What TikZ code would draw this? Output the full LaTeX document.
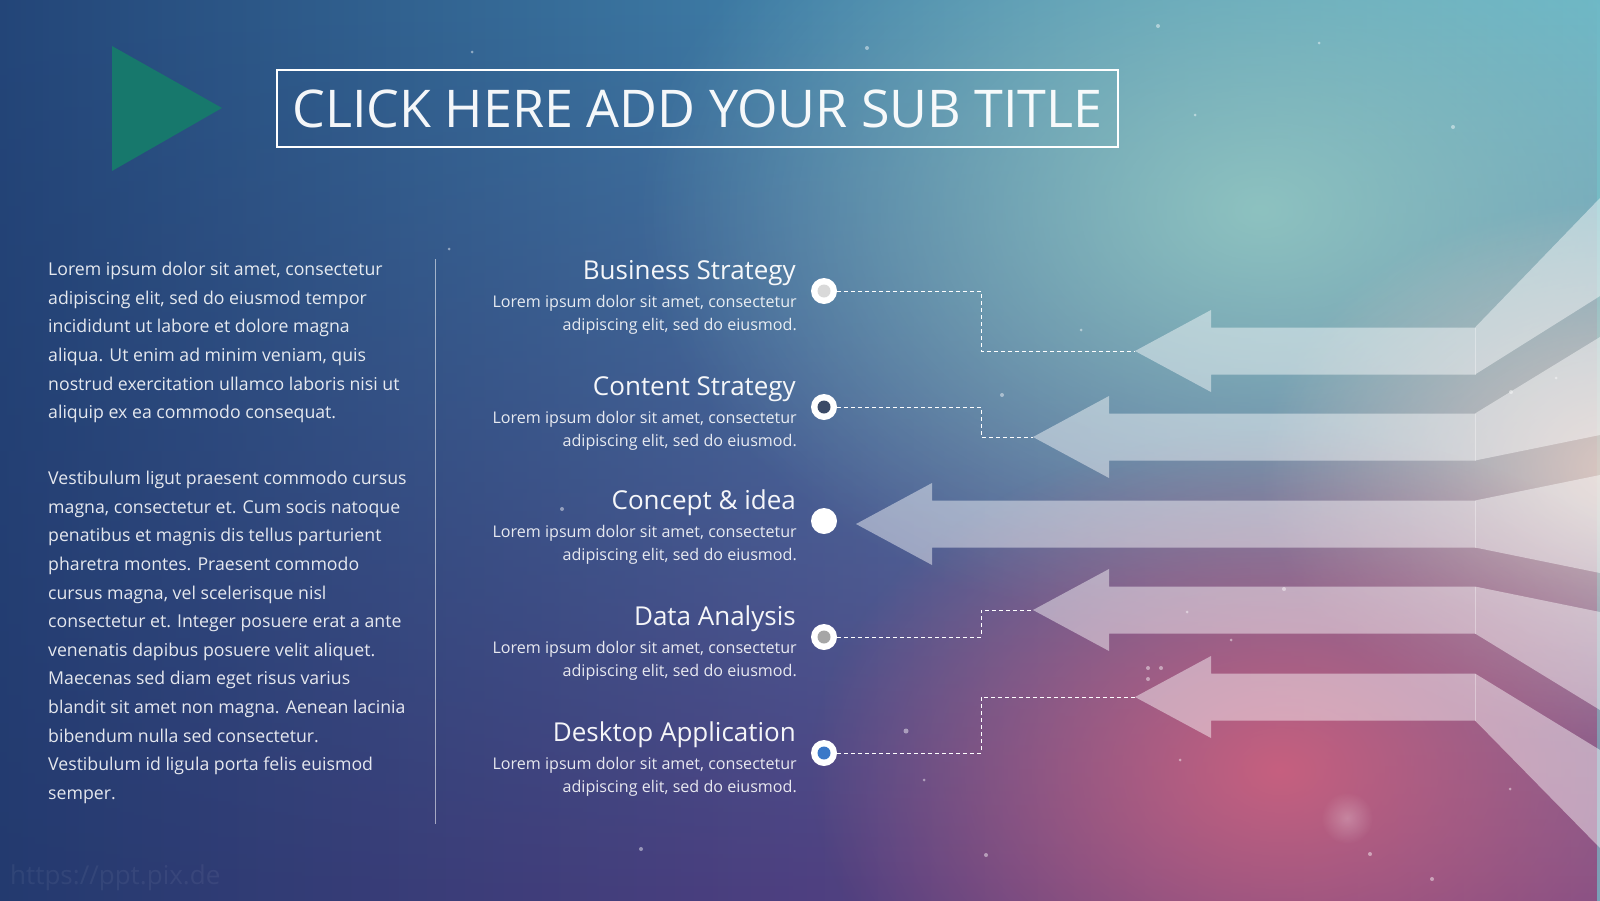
\documentclass[tikz,border=0pt]{standalone}
\usepackage{fontspec}
\setmainfont{Open Sans}
\usepackage{tikz}
\usetikzlibrary{fadings}
\definecolor{bgdeep}{HTML}{234679}
\definecolor{bgsea}{HTML}{3F7FA8}
\definecolor{bgteal}{HTML}{63B4C8}
\definecolor{bgnight}{HTML}{243A6F}
\definecolor{bgplum}{HTML}{4E3F80}
\definecolor{bgmauve}{HTML}{7B4E86}
\definecolor{bgmint}{HTML}{93C8C2}
\definecolor{bgpeach}{HTML}{E8CFC4}
\definecolor{bgrose}{HTML}{C6607F}
\definecolor{playgreen}{HTML}{17786C}
\definecolor{dotgrey}{HTML}{D9D9D9}
\definecolor{dotnavy}{HTML}{3B4A66}
\definecolor{dotstone}{HTML}{A6A6A6}
\definecolor{dotblue}{HTML}{3A78C8}
\tikzfading[name=glowfade, inner color=transparent!0, outer color=transparent!100]
\tikzfading[name=fadeup, top color=transparent!100, bottom color=transparent!0]
\tikzstyle{dotring} = [circle, fill=white, minimum size=26pt, inner sep=0pt]
\tikzset{
  head/.style={anchor=base east, inner sep=0pt, text=white, text opacity=.95, font=\fontsize{26}{31}\selectfont},
  blurb/.style={anchor=north east, align=right, inner sep=0pt, text=white, text opacity=.88, font=\fontsize{16.1}{23.5}\selectfont},
  para/.style={anchor=north west, align=left, inner sep=0pt, text=white, text opacity=.88, font=\fontsize{17.7}{28.6}\selectfont},
  band/.style={fill=white, fill opacity=.45},
  link/.style={white, line width=1pt, dash pattern=on 4pt off 3pt},
}
\begin{document}
\begin{tikzpicture}[x=1pt,y=-1pt]
\useasboundingbox (0,0) rectangle (1600,900);
% backdrop
\shade[left color=bgdeep, right color=bgteal, middle color=bgsea] (0,0) rectangle (1600,900);
\shade[left color=bgnight, right color=bgmauve, middle color=bgplum, path fading=fadeup] (0,0) rectangle (1600,900);
\fill[bgmint, fill opacity=.9, path fading=glowfade] (1260,210) ellipse [x radius=620, y radius=430];
\fill[bgpeach, fill opacity=.9, path fading=glowfade] (1620,470) ellipse [x radius=360, y radius=270];
\fill[bgrose, path fading=glowfade] (1280,770) ellipse [x radius=470, y radius=340];
\fill[white, opacity=.25, path fading=glowfade] (1347,818) circle (26);
\foreach \sx/\sy/\sr in {867/48/2, 1158/26/2, 1319/43/1.5, 1453/127/2, 1195/115/1.5, 472/52/1.5,
  449/249/1.5, 1081/330/1.5, 1002/395/2, 562/509/2, 1511/392/2, 1556/378/1.5, 1284/589/2,
  1187/612/1.5, 1148/668/2, 1161/668/2, 1148/679/2, 906/731/2.5, 924/780/1.5, 1180/760/1.5,
  641/849/2, 986/855/2, 1370/854/2, 1432/879/2, 1510/789/1.5, 1231/640/1.5}
  \fill[white, opacity=.45] (\sx,\sy) circle (\sr);

% arrows
\foreach \i/\c/\t/\r in {1/351/1135/198, 2/437/1033/337, 3/524/856/475, 4/610/1033/612, 5/697/1135/750} {
  \coordinate (tip\i) at (\t,\c);
  \fill[band] (tip\i) -- (\t+76,\c-41) -- (\t+76,\c-23.5) -- (1475,\c-23.5) -- (1600,\r)
    -- (1600,\r+98) -- (1475,\c+23.5) -- (\t+76,\c+23.5) -- (\t+76,\c+41) -- cycle;
  \draw[white, opacity=.35, line width=.8pt] (1475,\c-23.5) -- (1475,\c+23.5);
}

% items
\foreach \i/\y/\name/\core in {1/269/Business Strategy/dotgrey, 2/385/Content Strategy/dotnavy,
  3/499/Concept \& idea/white, 4/615/Data Analysis/dotstone, 5/731/Desktop Application/dotblue} {
  \node[head] (head\i) at (796,\y+10) {\name};
  \node[blurb] (blurb\i) at (797,\y+26) {Lorem ipsum dolor sit amet, consectetur\\adipiscing elit, sed do eiusmod.};
  \node[dotring] (dot\i) at (824,\y+22) {};
  \fill[\core] (dot\i) circle (6.5);
}
\foreach \i in {1,2,4,5}
  \draw[link] (dot\i.east) -- ++(144,0) |- (tip\i);

\fill[playgreen] (112,46) -- (222,108) -- (112,171) -- cycle;
\node[draw=white, line width=1.3pt, minimum width=841pt, minimum height=77pt, inner sep=0pt,
  text=white, text opacity=.95, font=\fontsize{52}{60}\selectfont] (title) at (697.5,108.5) {CLICK HERE ADD YOUR SUB TITLE};

\draw[white, opacity=.55, line width=1pt] (435,259) -- (435,824);
\node[para] (lead) at (48,262) {Lorem ipsum dolor sit amet, consectetur\\
  adipiscing elit, sed do eiusmod tempor\\
  incididunt ut labore et dolore magna\\
  aliqua. Ut enim ad minim veniam, quis\\
  nostrud exercitation ullamco laboris nisi ut\\
  aliquip ex ea commodo consequat.};
\node[para] (rest) at (48,471) {Vestibulum ligut praesent commodo cursus\\
  magna, consectetur et. Cum socis natoque\\
  penatibus et magnis dis tellus parturient\\
  pharetra montes. Praesent commodo\\
  cursus magna, vel scelerisque nisl\\
  consectetur et. Integer posuere erat a ante\\
  venenatis dapibus posuere velit aliquet.\\
  Maecenas sed diam eget risus varius\\
  blandit sit amet non magna. Aenean lacinia\\
  bibendum nulla sed consectetur.\\
  Vestibulum id ligula porta felis euismod\\
  semper.};
\node[anchor=west, inner sep=0pt, text=white, text opacity=.06, font=\fontsize{26}{30}\selectfont] (mark) at (10,878) {https://ppt.pix.de};
\end{tikzpicture}
\end{document}
